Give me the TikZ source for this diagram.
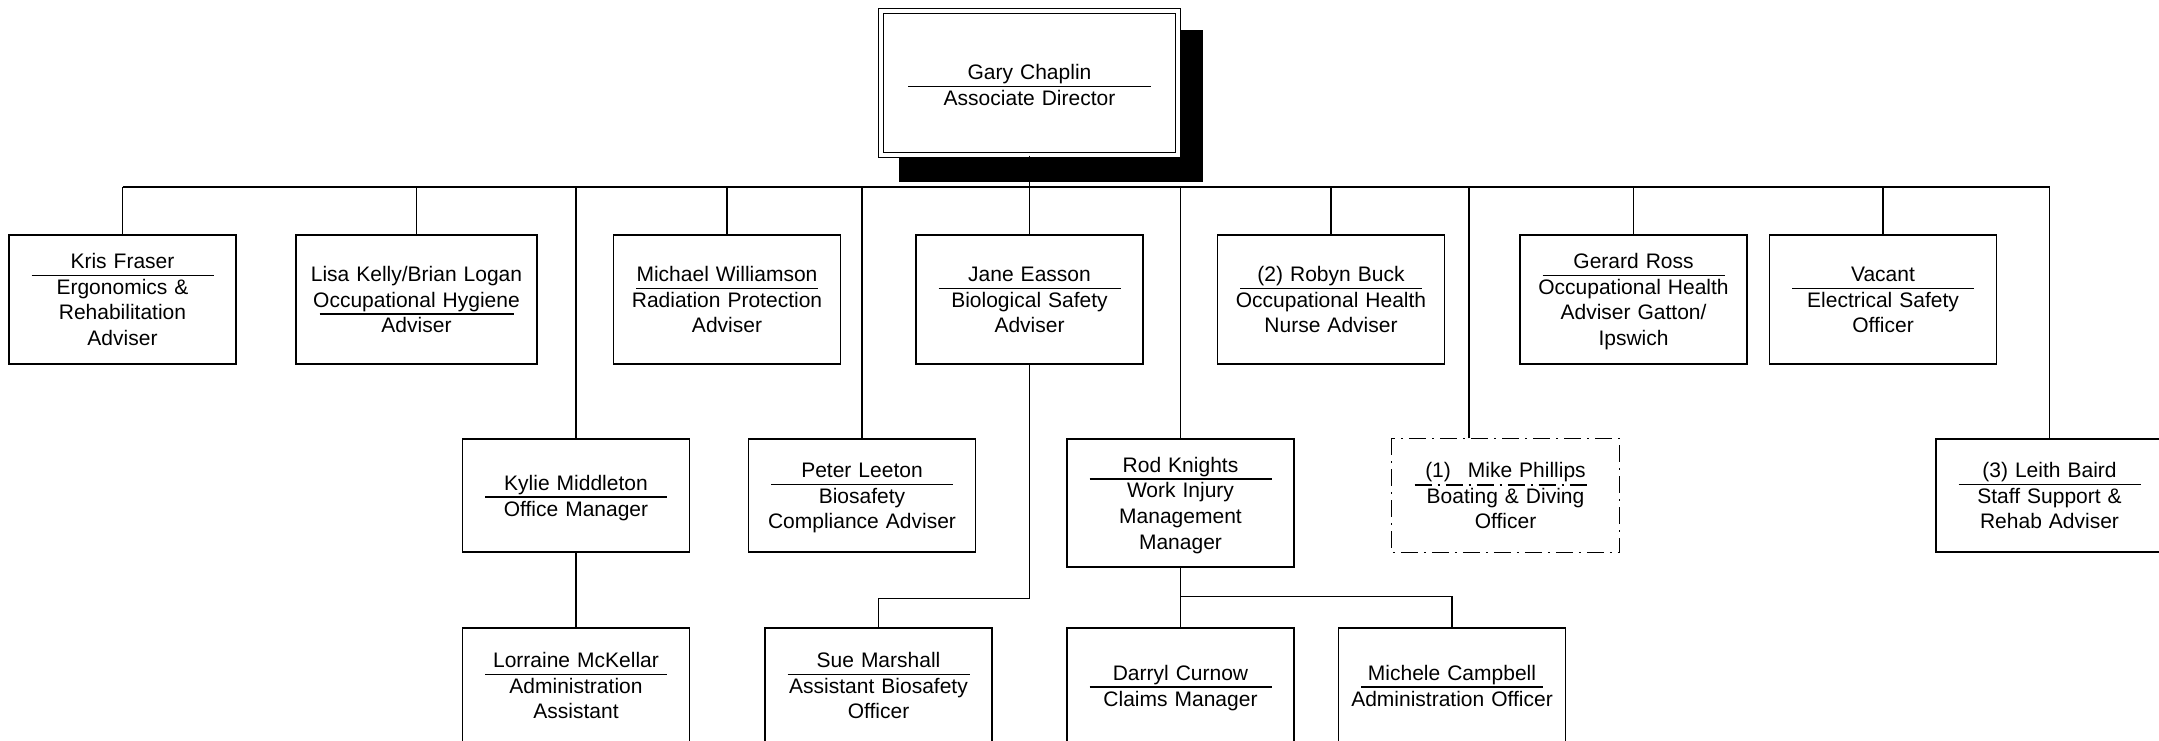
\documentclass[tikz,border=0pt]{standalone}
\usepackage{fontspec}
\setmainfont{Liberation Sans}
\newcommand\fsz{\fontsize{21}{25.7}\selectfont}
\newcommand\nm[2][182pt]{\makebox[0pt]{\strut#2}\makebox[0pt]{\raisebox{-7.5pt}{\rule{#1}{1.4pt}}}}
\newcommand\cardtop{23pt}
\begin{document}
\begin{tikzpicture}[x=1pt,y=-1pt,
  line width=1.4pt,
  card/.style={draw, fill=white, line width=1.4pt, inner sep=0pt,
    minimum width=227pt, minimum height=129pt, text width=225pt, align=center,
    font=\fsz, execute at begin node={\rule{0pt}{\cardtop}}, execute at end node=\strut},
  row2/.style={card, minimum height=113pt},
  row3/.style={card, minimum height=115pt},
  dashdot/.style={dash pattern=on 17pt off 6pt on 2pt off 6pt},
  wire/.style={line width=1.4pt}]
\path[use as bounding box, fill=white] (0,0) rectangle (2159,741);

% shadow and top box
\fill[black] (899,30) rectangle (1203,182);
\begin{scope}
\renewcommand\cardtop{26.5pt}
\node[card, double, double distance=3.6pt, line width=1.3pt,
  minimum width=297pt, minimum height=144pt, text width=290pt] (top) at (1029.5,83)
  {\nm[243pt]{Gary Chaplin}\\Associate Director};
\end{scope}

% row 1
\node[card] (kris)    at (122.5,299.5) {\nm{Kris Fraser}\\Ergonomics \&\\Rehabilitation\\Adviser};
\node[card, minimum width=241pt, text width=238pt] (lisa) at (416.5,299.5)
  {Lisa Kelly/Brian Logan\\\nm[194pt]{Occupational Hygiene}\\Adviser};
\node[card] (michael) at (727,299.5) {\nm{Michael Williamson}\\Radiation Protection\\Adviser};
\node[card] (jane)    at (1029.5,299.5) {\nm{Jane Easson}\\Biological Safety\\Adviser};
\node[card] (robyn)   at (1331,299.5) {\nm{(2) Robyn Buck}\\Occupational Health\\Nurse Adviser};
\node[card] (gerard)  at (1633.5,299.5) {\nm{Gerard Ross}\\Occupational Health\\Adviser Gatton/\\Ipswich};
\node[card] (vacant)  at (1883,299.5) {\nm{Vacant}\\Electrical Safety\\Officer};

% row 2
\node[row2] (kylie) at (576,495.5) {\nm{Kylie Middleton}\\Office Manager};
\node[row2] (peter) at (862,495.5) {\nm{Peter Leeton}\\Biosafety\\Compliance Adviser};
\node[card, minimum height=128pt] (rod) at (1180.5,503) {\nm{Rod Knights}\\Work Injury\\Management\\Manager};
\node[row2, draw=none] (mike) at (1505.5,495.5) {\makebox[0pt]{\strut(1)\hspace{17pt}Mike Phillips}\\Boating \& Diving\\Officer};
\draw[dashdot] (mike.north west) rectangle (mike.south east);
\draw[dashdot] ([xshift=-91pt,yshift=10.5pt]mike.center) -- ([xshift=86pt,yshift=10.5pt]mike.center);
\node[row2] (leith) at (2049.5,495.5) {\nm{(3) Leith Baird}\\Staff Support \&\\Rehab Adviser};

% row 3
\node[row3] (lorraine) at (576,685.5) {\nm{Lorraine McKellar}\\Administration\\Assistant};
\node[row3] (sue)      at (878.5,685.5) {\nm{Sue Marshall}\\Assistant Biosafety\\Officer};
\node[row3] (darryl)   at (1180.5,685.5) {\nm{Darryl Curnow}\\Claims Manager};
\node[row3] (michele)  at (1452,685.5) {\nm{Michele Campbell}\\Administration Officer};

% bus
\coordinate (busL) at (122.5,187);
\coordinate (busR) at (2049.5,187);
\draw[wire] (busL) -- (busR);
\draw[wire] (top.south) -- (top.south |- busL);
\foreach \n in {kris,lisa,michael,jane,robyn,gerard,vacant,kylie,peter,rod,leith}
  \draw[wire] (\n.north) -- (\n.north |- busL);
\draw[wire] ([xshift=-36.5pt]mike.north) -- ([xshift=-36.5pt]mike.north |- busL);

% sub connectors
\draw[wire] (kylie.south) -- (lorraine.north);
\draw[wire] (jane.south) |- ([yshift=29pt]sue.north) -- (sue.north);
\draw[wire] (rod.south) -- (darryl.north);
\draw[wire] ([yshift=31pt]darryl.north) -| (michele.north);
\end{tikzpicture}
\end{document}
